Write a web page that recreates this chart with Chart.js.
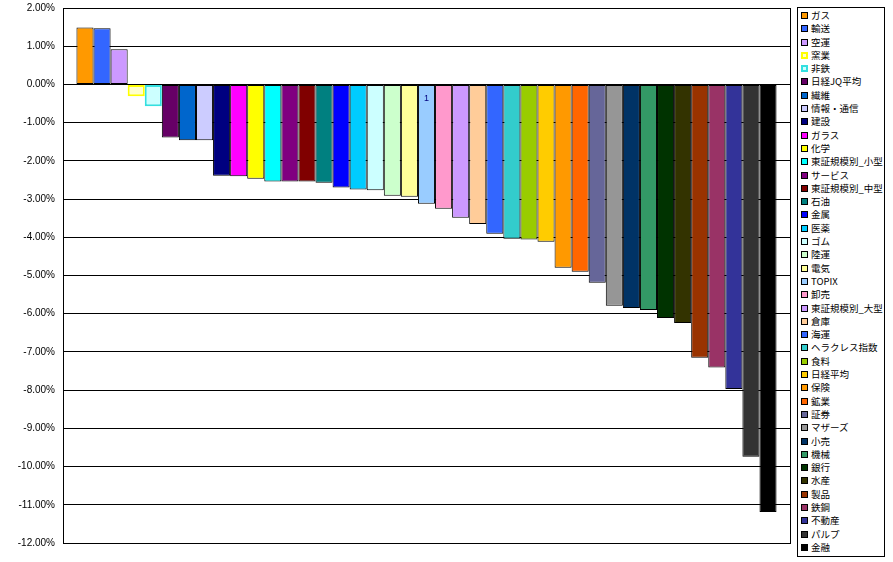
<!DOCTYPE html>
<html lang="ja">
<head>
<meta charset="UTF-8">
<title>業種別騰落率</title>
<script src="https://cdn.jsdelivr.net/npm/chart.js"></script>
<style>
    body {
        margin: 0;
        padding: 0;
        background: #ffffff;
    }
    .wrap {
        position: relative;
        width: 893px;
        height: 562px;
    }
    #legend {
        position: absolute;
        left: 797px;
        top: 7px;
        width: 86px;
        height: 547px;
        border: 1px solid #000;
        background: #fff;
        padding-top: 1px;
        font-family: 'Noto Sans CJK JP', sans-serif;
        font-size: 9.5px;
        color: #000;
    }
    #legend .item {
        height: 13.3px;
        line-height: 13.3px;
        white-space: nowrap;
        position: relative;
        padding-left: 13px;
    }
    #legend .sw {
        position: absolute;
        left: 3px;
        top: 3px;
        width: 7px;
        height: 7px;
        box-sizing: border-box;
        border: 1px solid #000;
    }
</style>
</head>
<body>
<div class="wrap">
    <canvas id="chart" width="893" height="562"></canvas>
    <div id="legend"></div>
</div>
<script>
// series names (in legend order)
const names = [
    'ガス', '輸送', '空運', '窯業', '非鉄', '日経JQ平均', '繊維', '情報・通信', '建設', 'ガラス',
    '化学', '東証規模別_小型', 'サービス', '東証規模別_中型', '石油', '金属', '医薬', 'ゴム', '陸運', '電気',
    'TOPIX', '卸売', '東証規模別_大型', '倉庫', '海運', 'ヘラクレス指数', '食料', '日経平均', '保険', '鉱業',
    '証券', 'マザーズ', '小売', '機械', '銀行', '水産', '製品', '鉄鋼', '不動産', 'パルプ',
    '金融'
];

// change in %
const values = [
    1.49, 1.47, 0.92, -0.31, -0.57, -1.39, -1.46, -1.46, -2.39, -2.40,
    -2.47, -2.54, -2.54, -2.54, -2.57, -2.70, -2.75, -2.77, -2.91, -2.94,
    -3.12, -3.25, -3.49, -3.65, -3.91, -4.04, -4.06, -4.12, -4.80, -4.90,
    -5.19, -5.79, -5.85, -5.90, -6.11, -6.24, -7.15, -7.41, -7.97, -9.74,
    -11.19
];

const fills = [
    '#FF9900', '#3366FF', '#CC99FF', '#FFFFCC', '#CCFFFF', '#660066', '#0066CC', '#CCCCFF', '#000080', '#FF00FF',
    '#FFFF00', '#00FFFF', '#800080', '#800000', '#008080', '#0000FF', '#00CCFF', '#CCFFFF', '#CCFFCC', '#FFFF99',
    '#99CCFF', '#FF99CC', '#CC99FF', '#FFCC99', '#3366FF', '#33CCCC', '#99CC00', '#FFCC00', '#FF9900', '#FF6600',
    '#666699', '#969696', '#003366', '#339966', '#003300', '#333300', '#993300', '#993366', '#333399', '#333333',
    '#000000'
];

// only 窯業 and 非鉄 have coloured outlines
const borders = names.map((n, i) => i === 3 ? '#FFFF00' : i === 4 ? '#33E0E0' : '#000000');

const categories = ['1'];
const yTicks = { min: -12, max: 2, step: 1 };

// frame round the plot area
const plotFrame = {
    id: 'plotFrame',
    afterDraw(chart) {
        const a = chart.chartArea;
        const ctx = chart.ctx;
        ctx.save();
        ctx.strokeStyle = '#000';
        ctx.lineWidth = 1;
        ctx.strokeRect(Math.round(a.left) + 0.5, Math.round(a.top) + 0.5,
            Math.round(a.right - a.left), Math.round(a.bottom - a.top));
        ctx.restore();
    }
};

const datasets = names.map((n, i) => ({
    label: n,
    data: [values[i]],
    backgroundColor: fills[i],
    borderColor: borders[i],
    borderWidth: (i === 3 || i === 4) ? 2 : 1,
    borderSkipped: false
}));

const chart = new Chart(document.getElementById('chart'), {
    type: 'bar',
    data: { labels: categories, datasets: datasets },
    options: {
        responsive: false,
        animation: false,
        categoryPercentage: 0.963,
        barPercentage: 1.0,
        layout: { padding: { top: 8, right: 103, bottom: 19, left: 0 } },
        plugins: {
            legend: { display: false },
            tooltip: { enabled: false }
        },
        scales: {
            x: {
                position: { y: 0 },
                grid: { display: false, drawTicks: false },
                border: { display: false },
                ticks: {
                    z: 1,
                    padding: 9,
                    color: '#000080',
                    font: { family: 'Liberation Sans', size: 9 }
                }
            },
            y: {
                min: yTicks.min,
                max: yTicks.max,
                afterFit(scale) { scale.width = 63; },
                grid: { color: '#000', drawTicks: true, tickLength: 8, tickColor: 'rgba(0,0,0,0)' },
                border: { color: '#000' },
                ticks: {
                    stepSize: yTicks.step,
                    padding: 0,
                    color: '#000',
                    font: { family: 'Liberation Sans', size: 10 },
                    callback: v => v.toFixed(2) + '%'
                }
            }
        }
    },
    plugins: [plotFrame]
});

// legend box on the right, built from the datasets
const legend = document.getElementById('legend');
chart.data.datasets.forEach(ds => {
    const item = document.createElement('div');
    item.className = 'item';
    const sw = document.createElement('span');
    sw.className = 'sw';
    sw.style.background = ds.backgroundColor;
    if (ds.borderColor !== '#000000') {
        sw.style.border = '2px solid ' + ds.borderColor;
    }
    item.appendChild(sw);
    item.appendChild(document.createTextNode(ds.label));
    legend.appendChild(item);
});
</script>
</body>
</html>
